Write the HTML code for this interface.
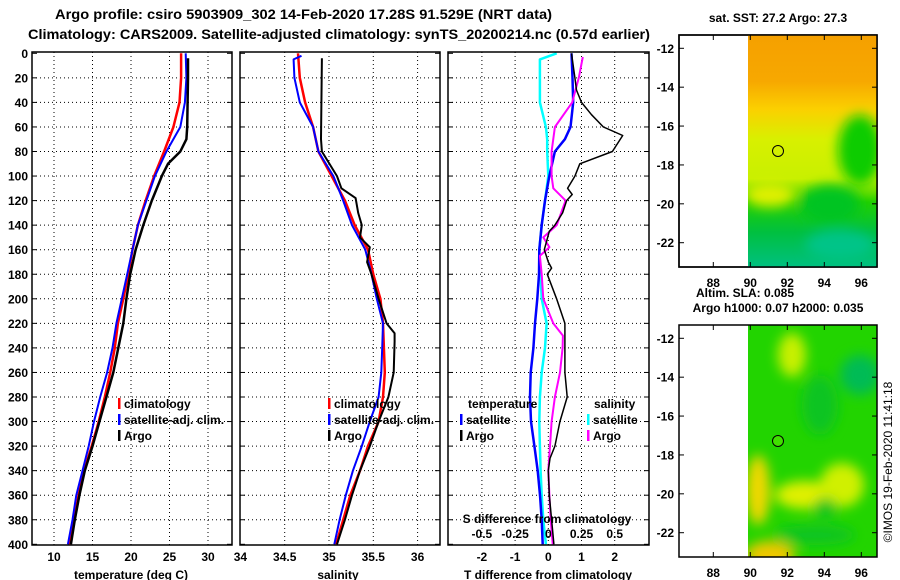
<!DOCTYPE html>
<html><head><meta charset="utf-8"><style>
html,body{margin:0;padding:0;background:#fff;}
svg{display:block;font-family:"Liberation Sans",sans-serif;font-weight:bold;}
</style></head><body>
<svg id="chart" width="900" height="580" viewBox="0 0 900 580">
<defs>
<linearGradient id="sstg" x1="0" y1="0" x2="0" y2="1">
<stop offset="0" stop-color="#f5a000"/><stop offset="0.2" stop-color="#f7a800"/>
<stop offset="0.32" stop-color="#fbd000"/><stop offset="0.45" stop-color="#d8f000"/>
<stop offset="0.62" stop-color="#c8f000"/><stop offset="0.72" stop-color="#20d000"/>
<stop offset="0.85" stop-color="#00c040"/><stop offset="1" stop-color="#00c080"/>
</linearGradient>
<filter id="blur"><feGaussianBlur stdDeviation="6"/></filter>
<clipPath id="m1"><rect x="748" y="35" width="129" height="232"/></clipPath>
<clipPath id="m2"><rect x="748" y="325" width="129" height="232"/></clipPath>
</defs>
<text x="55" y="19" font-size="14" textLength="497" lengthAdjust="spacingAndGlyphs">Argo profile: csiro 5903909_302 14-Feb-2020 17.28S 91.529E (NRT data)</text>
<text x="28" y="39" font-size="14" textLength="622" lengthAdjust="spacingAndGlyphs">Climatology: CARS2009. Satellite-adjusted climatology: synTS_20200214.nc (0.57d earlier)</text>
<g id="plots"></g>
<g>
<rect x="679" y="35" width="198" height="232" fill="#fff" stroke="#000" stroke-width="1.5"/>
<g clip-path="url(#m1)">
<rect x="748" y="35" width="129" height="232" fill="url(#sstg)"/>
<g filter="url(#blur)">
<ellipse cx="860" cy="150" rx="22" ry="35" fill="#10cc00"/>
<ellipse cx="830" cy="205" rx="30" ry="20" fill="#00c420"/>
<ellipse cx="770" cy="195" rx="25" ry="12" fill="#e0f000"/>
<ellipse cx="840" cy="245" rx="35" ry="15" fill="#00c488"/>
</g></g>
<rect x="679" y="35" width="198" height="232" fill="none" stroke="#000" stroke-width="1.5"/>
<circle cx="778" cy="151" r="5.5" fill="none" stroke="#000" stroke-width="1"/>
</g>
<g>
<g clip-path="url(#m2)">
<rect x="748" y="325" width="129" height="232" fill="#22d400"/>
<g filter="url(#blur)">
<ellipse cx="792" cy="355" rx="14" ry="22" fill="#c8f000"/>
<ellipse cx="860" cy="375" rx="20" ry="20" fill="#00bb55"/>
<ellipse cx="820" cy="405" rx="18" ry="30" fill="#10c420"/>
<ellipse cx="758" cy="490" rx="12" ry="35" fill="#f0d800"/>
<ellipse cx="805" cy="495" rx="30" ry="14" fill="#e0f000"/>
<ellipse cx="842" cy="485" rx="22" ry="22" fill="#d0f000"/>
<ellipse cx="825" cy="508" rx="12" ry="10" fill="#10c420"/>
<ellipse cx="770" cy="555" rx="25" ry="14" fill="#f0c800"/>
<ellipse cx="815" cy="535" rx="40" ry="10" fill="#10c420"/>
</g></g>
<rect x="679" y="325" width="198" height="232" fill="none" stroke="#000" stroke-width="1.5"/>
<circle cx="778" cy="441" r="5.5" fill="#40e000" stroke="#000" stroke-width="1"/>
</g>
<text x="778" y="22" font-size="12" text-anchor="middle">sat. SST: 27.2 Argo: 27.3</text>
<text x="745" y="297" font-size="12" text-anchor="middle">Altim. SLA: 0.085</text>
<text x="778" y="312" font-size="12" text-anchor="middle">Argo h1000: 0.07 h2000: 0.035</text>
<text transform="translate(892,462) rotate(-90)" font-size="12" font-weight="normal" text-anchor="middle">©IMOS 19-Feb-2020 11:41:18</text>
<g id="mapaxes"></g>
</svg>
<script>
const tDepth = [0,20,40,60,80,100,120,140,160,180,200,220,240,260,280,300,320,340,360,380,400];
const tClim  = [26.5,26.5,26.3,25.5,24.3,23.0,21.9,20.9,20.2,19.65,19.0,18.3,17.9,17.3,16.6,15.8,14.9,13.9,13.2,12.6,12.0];
const tSat   = [27.1,27.2,27.0,26.4,24.6,23.1,22.0,20.9,20.2,19.5,18.8,18.1,17.6,16.9,16.0,15.2,14.5,13.7,12.9,12.4,11.8];
const argoTDepth = [4,20,60,70,80,90,100,120,140,160,180,200,220,240,260,280,300,320,340,360,380,400];
const argoT  = [27.4,27.4,27.3,27.2,26.4,24.8,24.0,22.7,21.6,20.6,19.9,19.4,19.0,18.35,17.7,16.8,15.9,15.0,14.0,13.3,12.7,12.2];
const sDepth = [0,20,40,60,80,100,120,140,160,180,200,220,240,260,280,300,320,340,360,380,400];
const sClim  = [34.65,34.67,34.73,34.82,34.88,35.03,35.18,35.29,35.44,35.50,35.58,35.61,35.62,35.63,35.61,35.56,35.44,35.35,35.24,35.16,35.08];
const satSDepth = [2,5,20,40,60,80,100,120,140,160,180,200,220,240,260,280,300,320,340,360,380,400];
const sSat   = [34.69,34.60,34.61,34.67,34.82,34.88,35.05,35.16,35.26,35.41,35.48,35.54,35.61,35.60,35.59,35.56,35.46,35.37,35.27,35.19,35.12,35.06];
const argoSDepth = [4,70,80,100,110,118,130,140,150,158,170,180,200,220,228,235,260,280,300,320,340,360,380,400];
const argoS  = [34.92,34.91,34.92,35.09,35.14,35.30,35.33,35.37,35.35,35.46,35.43,35.48,35.56,35.65,35.74,35.74,35.73,35.67,35.56,35.46,35.35,35.26,35.18,35.09];
const dDepth = [0,20,40,60,70,80,100,120,140,160,180,200,220,240,260,280,300,320,340,360,380,400];
const dTSat  = [0.70,0.73,0.75,0.67,0.5,0.2,0.03,-0.1,-0.2,-0.27,-0.28,-0.33,-0.4,-0.45,-0.53,-0.55,-0.52,-0.42,-0.32,-0.25,-0.2,-0.17];
const dTArgoDepth = [0,20,30,40,50,60,67,80,90,100,110,115,120,130,140,145,160,170,175,180,200,220,240,260,280,300,320,330,340,360,380,400];
const dTArgo = [0.7,0.8,0.85,1.0,1.3,1.66,2.24,1.93,0.95,0.8,0.58,0.72,0.55,0.43,0.2,0.03,-0.12,0,0.1,-0.03,0.25,0.5,0.5,0.5,0.57,0.35,0.2,0.05,0,0.03,0.1,0.17];
const dSSatDepth = [0,5,20,40,60,70,80,100,120,140,160,180,200,220,240,260,280,300,320,340,360,380,400];
const dSSat  = [0.063,-0.063,-0.063,-0.063,-0.018,-0.008,-0.008,0,-0.025,-0.05,-0.068,-0.058,-0.05,-0.013,-0.025,-0.05,-0.063,-0.068,-0.063,-0.058,-0.05,-0.038,-0.018];
const dSArgoDepth = [3,20,40,60,80,100,110,120,140,150,158,165,180,200,220,230,240,260,280,300,320,340,360,380,400];
const dSArgo = [0.26,0.23,0.18,0.05,0.025,0.025,0.038,0.13,0.063,-0.038,0.008,-0.063,-0.05,-0.038,0.038,0.11,0.108,0.088,0.05,0.025,0.013,0,0.008,0.018,0.033];
const depthTicks = [0,20,40,60,80,100,120,140,160,180,200,220,240,260,280,300,320,340,360,380,400];
const tTicks = [10,15,20,25,30];
const sTicks = [34,34.5,35,35.5,36];
const dTTicks = [-2,-1,0,1,2];
const dSTicks = [-0.5,-0.25,0,0.25,0.5];
const latTicks = [-12,-14,-16,-18,-20,-22];
const lonTicks = [88,90,92,94,96];

const NS="http://www.w3.org/2000/svg";
const yD = d => 53.3 + d*1.2275;
const xT = t => 54 + (t-10)*7.7;
const xS = s => 240.4 + (s-34)*88.6;
const xDT = v => 548.3 + v*33.2;
const xDS = v => 548.3 + v*132.8;
const mapX = lon => 713.3 + (lon-88)*18.5;
const mapY = (lat,off) => off + 48.3 + (-12-lat)*19.44;

function el(tag, attrs, parent){
  const e=document.createElementNS(NS,tag);
  for(const k in attrs) e.setAttribute(k,attrs[k]);
  parent.appendChild(e); return e;
}
const G=document.getElementById('plots');
const panels=[[32,232],[240,440],[448,649]];
const plotTop=52, plotBot=545;
function grid(xs,x0,x1){
  depthTicks.forEach(d=>{
    if(d===0||d===400) return;
    const l=el('line',{x1:x0,x2:x1,y1:yD(d),y2:yD(d),stroke:'#000','stroke-width':1,'stroke-dasharray':'1,3'},G);
    
    
  });
  xs.forEach(x=>{
    if(x<=x0+1||x>=x1-1) return;
    const l=el('line',{x1:x,x2:x,y1:plotTop,y2:plotBot,stroke:'#000','stroke-width':1,'stroke-dasharray':'1,3'},G);
    
    
  });
}
grid(tTicks.map(xT),32,232);
grid(sTicks.map(xS),240,440);
grid(dTTicks.map(xDT),448,649);
function line(xs,ds,fx,color,w,name){
  const pts=xs.map((v,i)=>fx(v).toFixed(1)+','+yD(ds[i]).toFixed(1)).join(' ');
  const pl=el('polyline',{points:pts,fill:'none',stroke:color,'stroke-width':w,'stroke-linejoin':'round'},G);
  
  
}
line(tClim,tDepth,xT,'#ff0000',2.5,'temp-climatology-line');
line(tSat,tDepth,xT,'#0000ff',2,'temp-satellite-line');
line(argoT,argoTDepth,xT,'#000',2.5,'temp-argo-line');
line(sClim,sDepth,xS,'#ff0000',2.5,'sal-climatology-line');
line(sSat,satSDepth,xS,'#0000ff',2,'sal-satellite-line');
line(argoS,argoSDepth,xS,'#000',2,'sal-argo-line');
line(dSSat,dSSatDepth,xDS,'#00ffff',2.5,'sdiff-satellite-line');
line(dTSat,dDepth,xDT,'#0000ff',2.5,'tdiff-satellite-line');
line(dSArgo,dSArgoDepth,xDS,'#ff00ff',2,'sdiff-argo-line');
line(dTArgo,dTArgoDepth,xDT,'#000',1.5,'tdiff-argo-line');
panels.forEach((p,i)=>{
  const r=el('rect',{x:p[0],y:plotTop,width:p[1]-p[0],height:plotBot-plotTop,fill:'none',stroke:'#000','stroke-width':1.5},G);
  
  
  depthTicks.forEach(d=>{
    el('line',{x1:p[0],x2:p[0]+5,y1:yD(d),y2:yD(d),stroke:'#000'},G);
    el('line',{x1:p[1]-5,x2:p[1],y1:yD(d),y2:yD(d),stroke:'#000'},G);
  });
});
function txt(x,y,s,name,anchor,size,color){
  const t=el('text',{x:x,y:y,'font-size':size||12,'text-anchor':anchor||'start',fill:color||'#000'},G);
  t.textContent=s;
  
  
  return t;
}
depthTicks.forEach(d=>txt(28,yD(d)+4.5,String(d),'depth-tick-label','end'));
tTicks.forEach(v=>txt(xT(v),561,String(v),'temp-tick-label','middle'));
sTicks.forEach(v=>txt(xS(v),561,String(v),'sal-tick-label','middle'));
dTTicks.forEach(v=>txt(xDT(v),561,String(v),'tdiff-tick-label','middle'));
dSTicks.forEach(v=>txt(xDS(v),538,String(v),'sdiff-tick-label','middle'));
txt(131,579,'temperature (deg C)','x-axis-title-temp','middle');
txt(338,579,'salinity','x-axis-title-sal','middle');
txt(548,579,'T difference from climatology','x-axis-title-tdiff','middle');
txt(547,523,'S difference from climatology','sdiff-axis-title','middle');
function leg(x,y,color,label,name){
  const m=el('rect',{x:x,y:y-10,width:2.5,height:11,fill:color},G);
  
  
  txt(x+6,y,label,name);
}
leg(118,408,'#ff0000','climatology','legend-climatology');
leg(118,424,'#0000ff','satellite-adj. clim.','legend-satellite');
leg(118,440,'#000','Argo','legend-argo');
leg(328,408,'#ff0000','climatology','legend2-climatology');
leg(328,424,'#0000ff','satellite-adj. clim.','legend2-satellite');
leg(328,440,'#000','Argo','legend2-argo');
txt(468,408,'temperature','legend-temperature-header');
leg(460,424,'#0000ff','satellite','legend-t-satellite');
leg(460,440,'#000','Argo','legend-t-argo');
txt(594,408,'salinity','legend-salinity-header');
leg(587,424,'#00ffff','satellite','legend-s-satellite');
leg(587,440,'#ff00ff','Argo','legend-s-argo');

const MA=document.getElementById('mapaxes');
[35,325].forEach(off=>{
  latTicks.forEach(lat=>{
    const y=mapY(lat,off-35);
    el('line',{x1:679,x2:684,y1:y,y2:y,stroke:'#000'},MA);
    el('line',{x1:872,x2:877,y1:y,y2:y,stroke:'#000'},MA);
    const t=el('text',{x:674,y:y+4.5,'font-size':12,'text-anchor':'end'},MA);
    t.textContent=String(lat);
    
    
  });
  lonTicks.forEach(lon=>{
    const x=mapX(lon);
    el('line',{x1:x,x2:x,y1:off,y2:off+5,stroke:'#000'},MA);
    el('line',{x1:x,x2:x,y1:off+227,y2:off+232,stroke:'#000'},MA);
    const t=el('text',{x:x,y:off+252,'font-size':12,'text-anchor':'middle'},MA);
    t.textContent=String(lon);
    
    
  });
});
</script>
</body></html>
